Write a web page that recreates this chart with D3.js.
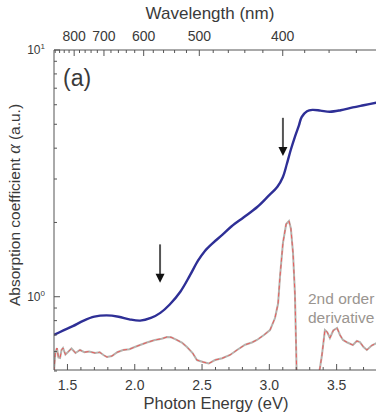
<!DOCTYPE html>
<html>
<head>
<meta charset="utf-8">
<script src="https://cdn.jsdelivr.net/npm/d3@7"></script>
<style>
  body { margin: 0; background: #fff; }
  text { font-family: "Liberation Sans", Arial, sans-serif; fill: #3a3a3a; }
</style>
</head>
<body>
<script>
// absorption curve (photon energy in eV, alpha in a.u.)
var energy =     [1.40, 1.47, 1.54, 1.62, 1.70, 1.79, 1.88, 1.96, 2.04, 2.12, 2.19, 2.26, 2.34, 2.41, 2.47, 2.52, 2.58, 2.65, 2.72, 2.81, 2.91, 2.99, 3.06, 3.10, 3.13, 3.16, 3.19, 3.22, 3.24, 3.28, 3.32, 3.38, 3.45, 3.53, 3.62, 3.70, 3.80];
var absorption = [0.70, 0.73, 0.76, 0.80, 0.83, 0.84, 0.83, 0.81, 0.80, 0.82, 0.86, 0.93, 1.05, 1.22, 1.40, 1.53, 1.65, 1.78, 1.93, 2.10, 2.31, 2.55, 2.79, 3.05, 3.45, 3.95, 4.45, 4.95, 5.35, 5.65, 5.72, 5.68, 5.62, 5.70, 5.85, 5.97, 6.12];

// 2nd order derivative (a.u., peak = 1)
var derivEnergy = [1.400, 1.410, 1.422, 1.433, 1.445, 1.456, 1.467, 1.485, 1.504, 1.530, 1.560, 1.593, 1.625, 1.660, 1.705, 1.740, 1.770, 1.794, 1.830, 1.870, 1.913, 1.960, 2.000, 2.039, 2.090, 2.150, 2.200, 2.240, 2.270, 2.300, 2.350, 2.388, 2.430, 2.462, 2.507, 2.550, 2.596, 2.650, 2.708, 2.760, 2.820, 2.870, 2.908, 2.960, 3.005, 3.042, 3.065, 3.079, 3.101, 3.125, 3.146, 3.160, 3.176, 3.190, 3.198, 3.205, 3.290, 3.369, 3.390, 3.413, 3.430, 3.450, 3.475, 3.503, 3.525, 3.547, 3.580, 3.621, 3.650, 3.673, 3.700, 3.725, 3.760, 3.800];
var derivative =  [0.00, 0.12, 0.153, 0.09, 0.087, 0.14, 0.153, 0.11, 0.127, 0.15, 0.12, 0.14, 0.125, 0.13, 0.12, 0.125, 0.105, 0.093, 0.10, 0.125, 0.14, 0.145, 0.16, 0.173, 0.19, 0.207, 0.215, 0.227, 0.225, 0.213, 0.19, 0.16, 0.12, 0.073, 0.06, 0.05, 0.073, 0.085, 0.107, 0.14, 0.175, 0.19, 0.207, 0.24, 0.273, 0.353, 0.45, 0.627, 0.853, 0.98, 1.0, 0.95, 0.787, 0.52, 0.20, -0.10, -0.30, -0.02, 0.10, 0.273, 0.26, 0.22, 0.27, 0.287, 0.24, 0.207, 0.19, 0.173, 0.20, 0.193, 0.16, 0.14, 0.17, 0.187];

var energyTicks = [1.5, 2.0, 2.5, 3.0, 3.5];
var wavelengthTicks = [800, 700, 600, 500, 400];
var decadeTicks = [1, 10];

// arrows: energy, top value, tip value
var arrowE =   [2.188, 3.101];
var arrowTop = [1.63, 5.31];
var arrowTip = [1.14, 3.72];

var W = 376, H = 418;
var mLeft = 54, mRight = 377, mTop = 50, mBottom = 370;

var svg = d3.select("body").append("svg")
    .attr("width", W)
    .attr("height", H);

var x = d3.scaleLinear().domain([1.4, 3.8]).range([mLeft, mRight]);
var y = d3.scaleLog().domain([0.5, 10]).range([mBottom + 1, mTop]);
var yd = d3.scaleLinear().domain([0, 1]).range([mBottom + 1, 221]);

svg.append("clipPath").attr("id", "plot")
   .append("rect")
   .attr("x", mLeft).attr("y", mTop)
   .attr("width", mRight - mLeft).attr("height", mBottom - mTop);

var g = svg.append("g").attr("clip-path", "url(#plot)");

var derivData = derivEnergy.map(function(e, i) { return [e, derivative[i]]; });
var dLine = d3.line()
    .x(function(d) { return x(d[0]); })
    .y(function(d) { return yd(d[1]); });

g.append("path")
 .attr("d", dLine(derivData))
 .attr("fill", "none")
 .attr("stroke", "#b6b2ad")
 .attr("stroke-width", 2);

g.append("path")
 .attr("d", dLine(derivData))
 .attr("fill", "none")
 .attr("stroke", "#ec5b5b")
 .attr("stroke-width", 1)
 .attr("stroke-dasharray", "4,3");

var absData = energy.map(function(e, i) { return [e, absorption[i]]; });
var aLine = d3.line()
    .curve(d3.curveCatmullRom)
    .x(function(d) { return x(d[0]); })
    .y(function(d) { return y(d[1]); });

g.append("path")
 .attr("d", aLine(absData))
 .attr("fill", "none")
 .attr("stroke", "#2e2f96")
 .attr("stroke-width", 2.4);

// arrows
arrowE.forEach(function(e, i) {
  var ax = x(e), y0 = y(arrowTop[i]), y1 = y(arrowTip[i]);
  svg.append("line")
     .attr("x1", ax).attr("x2", ax)
     .attr("y1", y0).attr("y2", y1 - 8)
     .attr("stroke", "#555").attr("stroke-width", 2);
  svg.append("path")
     .attr("d", "M" + (ax - 4.5) + "," + (y1 - 9) + "L" + (ax + 4.5) + "," + (y1 - 9) + "L" + ax + "," + y1 + "Z")
     .attr("fill", "#111");
});

// axes
var axisColor = "#555";
svg.append("line").attr("x1", mLeft).attr("x2", W).attr("y1", mBottom).attr("y2", mBottom)
   .attr("stroke", axisColor);
svg.append("line").attr("x1", mLeft).attr("x2", W).attr("y1", mTop).attr("y2", mTop)
   .attr("stroke", axisColor);
svg.append("line").attr("x1", mLeft).attr("x2", mLeft).attr("y1", mTop).attr("y2", mBottom)
   .attr("stroke", axisColor);

// bottom ticks (inward)
var minorE = d3.range(15, 38).map(function(v) { return v / 10; });
minorE.forEach(function(e) {
  var major = energyTicks.some(function(t) { return Math.abs(t - e) < 1e-6; });
  svg.append("line")
     .attr("x1", x(e)).attr("x2", x(e))
     .attr("y1", mBottom).attr("y2", mBottom - (major ? 6 : 3))
     .attr("stroke", axisColor);
});
energyTicks.forEach(function(e) {
  svg.append("text")
     .attr("x", x(e)).attr("y", 390)
     .attr("text-anchor", "middle")
     .attr("font-size", 14)
     .text(e.toFixed(1));
});
svg.append("text")
   .attr("x", 216).attr("y", 409)
   .attr("text-anchor", "middle")
   .attr("font-size", 16.5)
   .text("Photon Energy (eV)");

// top axis: wavelength ticks every 20 nm
d3.range(340, 900, 20).forEach(function(wl) {
  var e = 1239.84 / wl;
  if (e < 1.4 || e > 3.8) return;
  var major = wl % 100 === 0;
  svg.append("line")
     .attr("x1", x(e)).attr("x2", x(e))
     .attr("y1", mTop).attr("y2", mTop + (major ? 6 : 3))
     .attr("stroke", axisColor);
});
wavelengthTicks.forEach(function(wl) {
  svg.append("text")
     .attr("x", x(1239.84 / wl)).attr("y", 41)
     .attr("text-anchor", "middle")
     .attr("font-size", 14)
     .text(wl);
});
svg.append("text")
   .attr("x", 210).attr("y", 19)
   .attr("text-anchor", "middle")
   .attr("font-size", 17)
   .text("Wavelength (nm)");

// left log axis
[0.5, 0.6, 0.7, 0.8, 0.9, 1, 2, 3, 4, 5, 6, 7, 8, 9, 10].forEach(function(v) {
  var major = decadeTicks.indexOf(v) >= 0;
  svg.append("line")
     .attr("x1", mLeft).attr("x2", mLeft + (major ? 6 : 3))
     .attr("y1", y(v)).attr("y2", y(v))
     .attr("stroke", axisColor);
});
decadeTicks.forEach(function(v) {
  var t = svg.append("text")
     .attr("x", 45).attr("y", y(v) + 4)
     .attr("text-anchor", "end")
     .attr("font-size", 12);
  t.append("tspan").text("10");
  t.append("tspan").attr("dy", -5).attr("font-size", 8).text(Math.round(Math.log10(v)));
});

var yl = svg.append("text")
   .attr("transform", "translate(20,205) rotate(-90)")
   .attr("text-anchor", "middle")
   .attr("font-size", 15.5);
yl.append("tspan").text("Absorption coefficient ");
yl.append("tspan").attr("font-style", "italic").attr("font-family", "'Liberation Serif', serif").attr("font-size", 18).text("\u03b1");
yl.append("tspan").text(" (a.u.)");

svg.append("text")
   .attr("x", 63).attr("y", 86)
   .attr("font-size", 23)
   .text("(a)");

svg.append("text")
   .attr("x", 308).attr("y", 304)
   .attr("font-size", 15.5)
   .style("fill", "#9a9590")
   .text("2nd order");
svg.append("text")
   .attr("x", 308).attr("y", 323)
   .attr("font-size", 15.5)
   .style("fill", "#9a9590")
   .text("derivative");
</script>
</body>
</html>
